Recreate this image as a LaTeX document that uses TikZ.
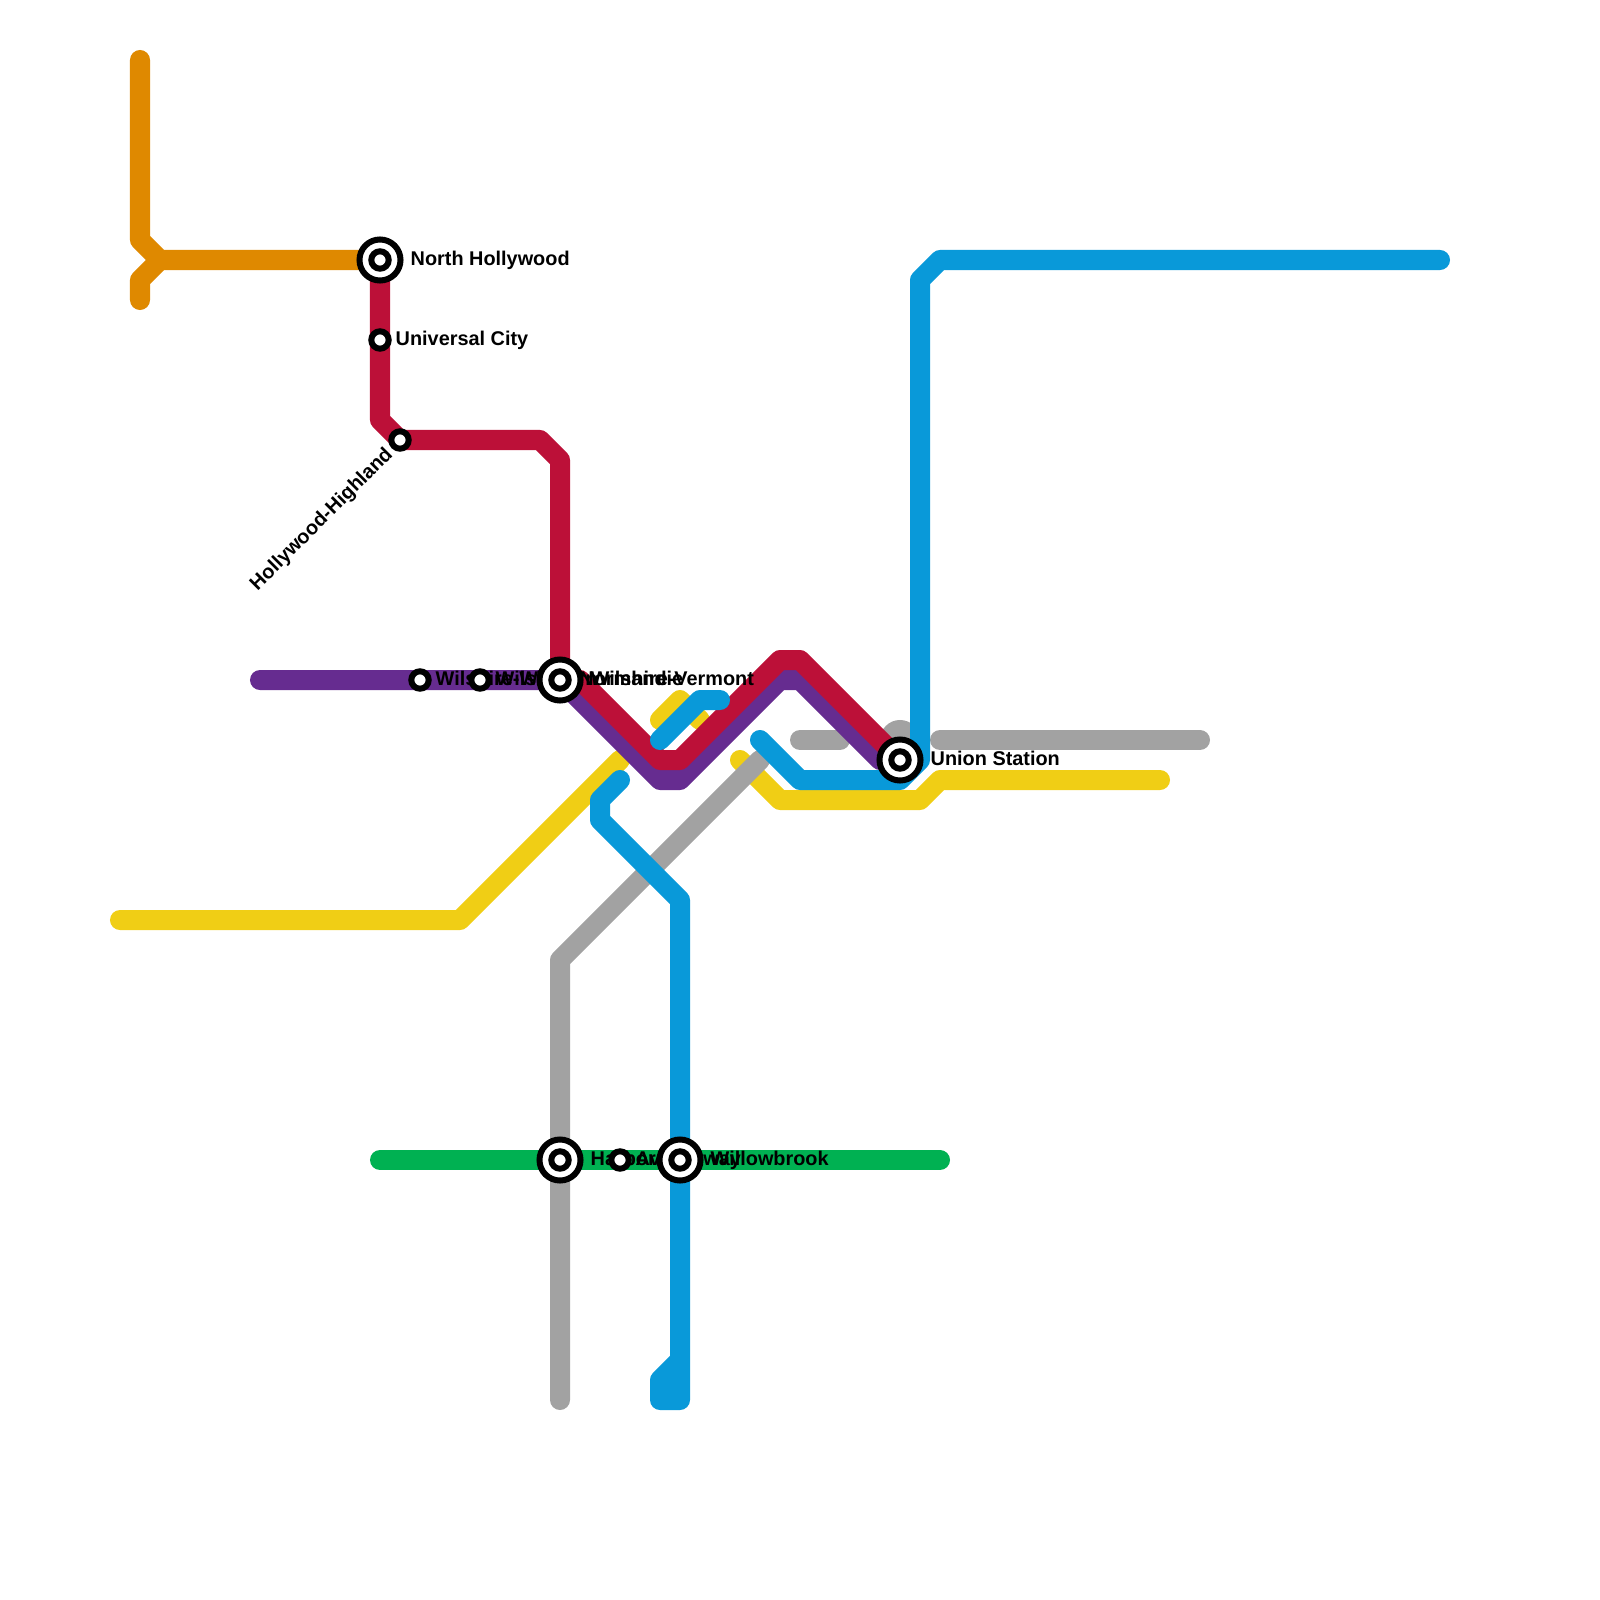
\documentclass[tikz,border=0pt]{standalone}
\usepackage{fontspec}
\setmainfont{Liberation Sans}
\usepackage{xcolor}
\definecolor{morange}{RGB}{223,137,0}
\definecolor{mred}{RGB}{188,16,56}
\definecolor{mpurple}{RGB}{102,44,144}
\definecolor{myellow}{RGB}{240,206,21}
\definecolor{mblue}{RGB}{9,153,217}
\definecolor{mgray}{RGB}{162,162,162}
\definecolor{mgreen}{RGB}{0,177,82}

\begin{document}
\begin{tikzpicture}[
    x=0.01cm, y=-0.01cm,
    route/.style={line width=0.2cm, line cap=round, line join=round},
    bigstop/.style={circle, draw=black, line width=0.06cm, fill=white, minimum size=0.41cm, inner sep=0pt, outer sep=0pt},
    stopcore/.style={circle, draw=black, line width=0.06cm, fill=white, minimum size=0.174cm, inner sep=0pt, outer sep=0pt},
    stoplabel/.style={font=\fontsize{5.65pt}{6pt}\selectfont\bfseries, inner sep=0pt, anchor=base west}
]
\useasboundingbox (0, 0) rectangle (1600, 1600);

% Lines
\draw[route, myellow] (120, 920) -- (460, 920) -- (620, 760);
\draw[route, myellow] (660, 720) -- (680, 700) -- (700, 720);
\draw[route, myellow] (740, 760) -- (780, 800) -- (920, 800) -- (940, 780) -- (1160, 780);
\draw[route, mgray] (560, 1400) -- (560, 960) -- (760, 760);
\draw[route, mgray] (800, 740) -- (840, 740);
\draw[route, mgray] (940, 740) -- (1200, 740);
\fill[mgray] (900, 740) circle (0.2cm);
\draw[route, mgreen] (380, 1160) -- (940, 1160);
\draw[route, morange] (140, 60) -- (140, 240) -- (160, 260) -- (380, 260);
\draw[route, morange] (140, 300) -- (140, 280) -- (160, 260);
\draw[route, mblue] (1440, 260) -- (940, 260) -- (920, 280) -- (920, 760) -- (900, 780) -- (800, 780) -- (760, 740);
\draw[route, mblue] (620, 780) -- (600, 800) -- (600, 820) -- (680, 900) -- (680, 1400) -- (660, 1400) -- (660, 1380) -- (680, 1360);
\draw[route, mpurple] (260, 680) -- (560, 680) -- (660, 780) -- (680, 780) -- (780, 680) -- (800, 680) -- (880, 760) -- (900, 760);
\draw[route, mred] (380, 260) -- (380, 420) -- (400, 440) -- (540, 440) -- (560, 460) -- (560, 680) -- (580, 680)
    -- (660, 760) -- (680, 760) -- (780, 660) -- (800, 660) -- (900, 760);
\draw[route, mblue] (660, 740) -- (700, 700) -- (720, 700);

% Labels
\node[stoplabel] (nhollywoodtext) at (410, 265) {North Hollywood};
\node[stoplabel] (ucitytext) at (395, 345) {Universal City};
\node[stoplabel, anchor=base east, rotate=45] (hhighlandtext) at (394, 455) {Hollywood-Highland};
\node[stoplabel] (wwesterntext) at (435, 685) {Wilshire-Western};
\node[stoplabel] (wnormandietext) at (495, 685) {Wilshire-Normandie};
\node[stoplabel] (wvermonttext) at (590, 685) {Wilshire-Vermont};
\node[stoplabel] (uniontext) at (930, 765) {Union Station};
\node[stoplabel] (harbortext) at (590, 1165) {Harbor Freeway};
\node[stoplabel] (avalontext) at (635, 1165) {Avalon};
\node[stoplabel] (willowbrooktext) at (710, 1165) {Willowbrook};

% Stations
\foreach \stopname/\stopx/\stopy in {nhollywood/380/260, wvermont/560/680, union/900/760, harbor/560/1160, willowbrook/680/1160} {
    \node[bigstop] (\stopname) at (\stopx, \stopy) {};
    \node[stopcore] (\stopname core) at (\stopx, \stopy) {};
}
\foreach \stopname/\stopx/\stopy in {ucity/380/340, hhighland/400/440, wwestern/420/680, wnormandie/480/680, avalon/620/1160} {
    \node[stopcore] (\stopname) at (\stopx, \stopy) {};
}

\end{tikzpicture}
\end{document}
